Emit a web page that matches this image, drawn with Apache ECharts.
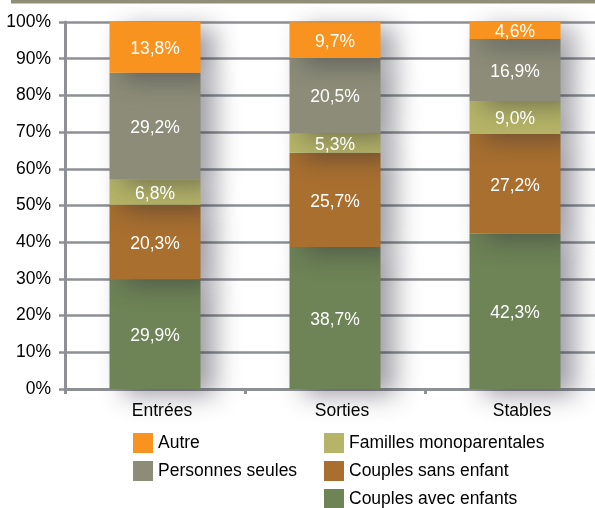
<!DOCTYPE html>
<html><head><meta charset="utf-8">
<script src="https://cdn.jsdelivr.net/npm/echarts@6/dist/echarts.min.js"></script>
<style>html,body{margin:0;padding:0;background:#fff}#c{width:595px;height:508px}</style>
</head><body><div id="c"></div>
<script>
const categories = ['Entrées', 'Sorties', 'Stables'];
const couplesAvecEnfants = [29.9, 38.7, 42.3];
const couplesSansEnfant = [20.3, 25.7, 27.2];
const famillesMono = [6.8, 5.3, 9.0];
const personnesSeules = [29.2, 20.5, 16.9];
const autre = [13.8, 9.7, 4.6];
const yTicks = [0, 10, 20, 30, 40, 50, 60, 70, 80, 90, 100];

const font = 'Liberation Sans, Arial, Helvetica, sans-serif';
const fs = 17.5;
const fmt = v => v.toFixed(1).replace('.', ',') + '%';
function mk(name, data, color) {
  return {
    name, type: 'bar', stack: 'all', data, barWidth: 91,
    itemStyle: { color, shadowColor: 'rgba(40,40,55,0.45)', shadowBlur: 24, shadowOffsetX: 14, shadowOffsetY: 6 },
    label: { show: true, position: 'inside', offset: [0, 2], color: '#fff', fontSize: fs, fontFamily: font,
      formatter: p => fmt(p.value) }
  };
}
const chart = echarts.init(document.getElementById('c'));
function lg(left, top, name) {
  return { orient: 'vertical', left, top, itemWidth: 20, itemHeight: 20, icon: 'rect', itemGap: 0,
    selectedMode: false, data: [name], textStyle: { fontSize: fs, fontFamily: font, color: '#000' } };
}
chart.setOption({
  animation: false,
  graphic: [{ type: 'rect', shape: { x: 11, y: 0, width: 584, height: 3.5 }, style: { fill: '#8e8e79' } }],
  grid: { left: 65, top: 22, bottom: 119, right: -10, outerBoundsMode: 'none', containLabel: false },
  legend: [
    lg(128, 428, 'Autre'),
    lg(128, 456, 'Personnes seules'),
    lg(319, 428, 'Familles monoparentales'),
    lg(319, 456, 'Couples sans enfant'),
    lg(319, 484, 'Couples avec enfants')
  ],
  xAxis: { type: 'category', data: categories,
    axisLine: { lineStyle: { color: '#8e9095', width: 3 } },
    axisTick: { show: true, length: 5, lineStyle: { color: '#8e9095', width: 3 } },
    axisLabel: { color: '#000', fontSize: fs, fontFamily: font, margin: 13, padding: [0, 0, 0, 14] } },
  yAxis: { type: 'value', min: 0, max: 100, interval: 10,
    axisLine: { show: true, lineStyle: { color: '#8e9095', width: 3 } },
    axisTick: { show: true, length: 6, lineStyle: { color: '#8e9095', width: 2.5 } },
    splitLine: { lineStyle: { color: '#8e9095', width: 2.5 } },
    axisLabel: { color: '#000', fontSize: fs, fontFamily: font, margin: 14,
      formatter: v => yTicks.includes(v) ? v + '%' : '' } },
  series: [
    mk('Couples avec enfants', couplesAvecEnfants, '#6e8356'),
    mk('Couples sans enfant', couplesSansEnfant, '#a86f2f'),
    mk('Familles monoparentales', famillesMono, '#b5b467'),
    mk('Personnes seules', personnesSeules, '#8c8c78'),
    mk('Autre', autre, '#f7931e')
  ]
});
</script></body></html>
